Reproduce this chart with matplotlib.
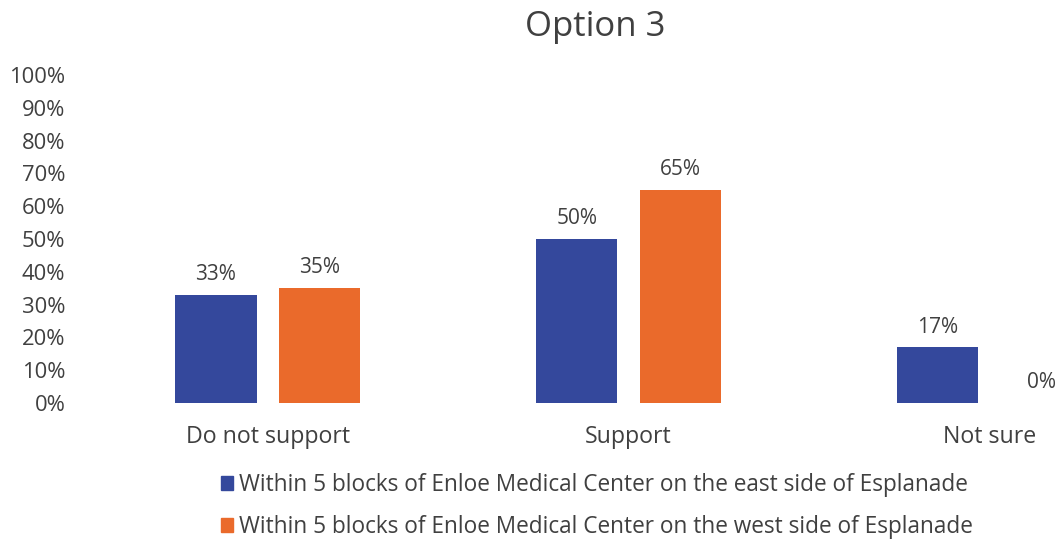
import numpy as np
import matplotlib
matplotlib.use("agg")
from matplotlib import pyplot as plt
from matplotlib.patches import Patch

categories = ["Do not support", "Support", "Not sure"]
east_side = [33, 50, 17]
west_side = [35, 65, 0]
series_names = [
    "Within 5 blocks of Enloe Medical Center on the east side of Esplanade",
    "Within 5 blocks of Enloe Medical Center on the west side of Esplanade",
]
yticks = list(range(0, 101, 10))

BLUE = "#34489c"
ORANGE = "#ea6a2b"
TEXT = "#404040"

plt.rcParams["font.family"] = ["Open Sans", "DejaVu Sans"]

fig = plt.figure(figsize=(10.62, 5.44), dpi=100)
# plot area runs past the right edge of the canvas
ax = fig.add_axes([0.0824, 0.2592, 1.019, 0.6029])

x = np.arange(len(categories))
w = 0.225
off = 0.144
b1 = ax.bar(x - off, east_side, w, color=BLUE)
b2 = ax.bar(x + off, west_side, w, color=ORANGE)

for bars, vals in ((b1, east_side), (b2, west_side)):
    for rect, v in zip(bars, vals):
        ax.annotate("{}%".format(v), (rect.get_x() + rect.get_width() / 2, v),
                    xytext=(0, 7), textcoords="offset points",
                    ha="center", va="bottom", fontsize=15, color=TEXT)

ax.set_xlim(-0.5, len(categories) - 0.5)
ax.set_ylim(0, 100)
ax.set_yticks(yticks)
ax.set_yticklabels(["{}%".format(t) for t in yticks])
ax.set_xticks(x)
ax.set_xticklabels(categories)
ax.tick_params(axis="both", length=0, colors=TEXT)
ax.tick_params(axis="y", pad=16, labelsize=15.8)
ax.tick_params(axis="x", pad=16, labelsize=16.7)
for s in ax.spines.values():
    s.set_visible(False)

fig.text(595 / 1062, 1 - 27 / 544, "Option 3", ha="center", va="center",
         fontsize=25, color=TEXT)

handles = [Patch(color=BLUE), Patch(color=ORANGE)]
fig.legend(handles, series_names, loc="center",
           bbox_to_anchor=(597 / 1062, 1 - 506 / 544), frameon=False,
           fontsize=16.3, labelcolor=TEXT, handlelength=0.55, handleheight=0.55,
           handletextpad=0.25, labelspacing=0.8)

fig.savefig("out.png", dpi=100)
plt.close()
